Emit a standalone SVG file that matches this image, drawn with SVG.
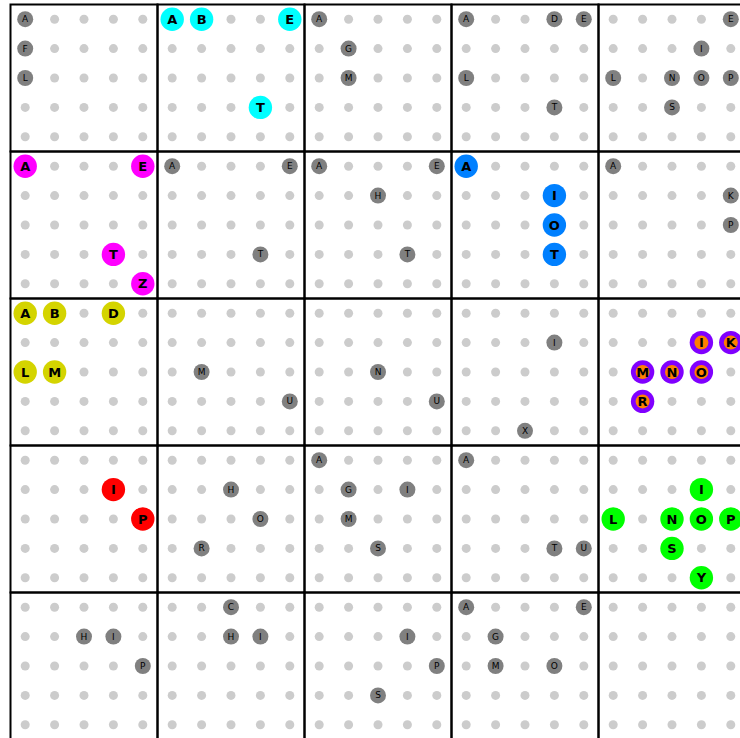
<svg xmlns="http://www.w3.org/2000/svg" xmlns:xlink="http://www.w3.org/1999/xlink" width="740" height="738" viewBox="0 0 740 738">
<style>
.d{fill:#cccccc}
.frame{fill:none;stroke:#000;stroke-width:2}
.g{fill:#808080}
.gt{font-family:"DejaVu Sans",sans-serif;font-size:9px;fill:#000;text-anchor:middle;dominant-baseline:central}
.ct{font-family:"DejaVu Sans",sans-serif;font-size:13px;font-weight:bold;fill:#000;text-anchor:middle;dominant-baseline:central}
.cy{fill:#00ffff}.mg{fill:#ff00ff}.bl{fill:#0080ff}.yl{fill:#d4d400}.pu{fill:#8000ff}.or{fill:#ff8000}.rd{fill:#ff0000}.gr{fill:#00ff00}
</style>
<defs>
<g id="dots">
<circle class="d" cx="14.7" cy="14.7" r="4.5"/><circle class="d" cx="44.1" cy="14.7" r="4.5"/><circle class="d" cx="73.5" cy="14.7" r="4.5"/><circle class="d" cx="102.9" cy="14.7" r="4.5"/><circle class="d" cx="132.3" cy="14.7" r="4.5"/>
<circle class="d" cx="14.7" cy="44.1" r="4.5"/><circle class="d" cx="44.1" cy="44.1" r="4.5"/><circle class="d" cx="73.5" cy="44.1" r="4.5"/><circle class="d" cx="102.9" cy="44.1" r="4.5"/><circle class="d" cx="132.3" cy="44.1" r="4.5"/>
<circle class="d" cx="14.7" cy="73.5" r="4.5"/><circle class="d" cx="44.1" cy="73.5" r="4.5"/><circle class="d" cx="73.5" cy="73.5" r="4.5"/><circle class="d" cx="102.9" cy="73.5" r="4.5"/><circle class="d" cx="132.3" cy="73.5" r="4.5"/>
<circle class="d" cx="14.7" cy="102.9" r="4.5"/><circle class="d" cx="44.1" cy="102.9" r="4.5"/><circle class="d" cx="73.5" cy="102.9" r="4.5"/><circle class="d" cx="102.9" cy="102.9" r="4.5"/><circle class="d" cx="132.3" cy="102.9" r="4.5"/>
<circle class="d" cx="14.7" cy="132.3" r="4.5"/><circle class="d" cx="44.1" cy="132.3" r="4.5"/><circle class="d" cx="73.5" cy="132.3" r="4.5"/><circle class="d" cx="102.9" cy="132.3" r="4.5"/><circle class="d" cx="132.3" cy="132.3" r="4.5"/>
</g>
</defs>
<rect width="740" height="738" fill="#fff"/>
<g id="connectors"/>

<g id="p00" transform="translate(10.5,4.5)"><use xlink:href="#dots"/><rect class="frame" width="147" height="147"/>
<circle class="g" cx="14.7" cy="14.7" r="8"/><text class="gt" x="14.7" y="14.7">A</text>
<circle class="g" cx="14.7" cy="44.1" r="8"/><text class="gt" x="14.7" y="44.1">F</text>
<circle class="g" cx="14.7" cy="73.5" r="8"/><text class="gt" x="14.7" y="73.5">L</text>
</g>
<g id="p01" transform="translate(157.5,4.5)"><use xlink:href="#dots"/><rect class="frame" width="147" height="147"/>
<circle class="cy" cx="14.7" cy="14.7" r="11.7"/><text class="ct" x="14.7" y="14.7">A</text>
<circle class="cy" cx="44.1" cy="14.7" r="11.7"/><text class="ct" x="44.1" y="14.7">B</text>
<circle class="cy" cx="132.3" cy="14.7" r="11.7"/><text class="ct" x="132.3" y="14.7">E</text>
<circle class="cy" cx="102.9" cy="102.9" r="11.7"/><text class="ct" x="102.9" y="102.9">T</text>
</g>
<g id="p02" transform="translate(304.5,4.5)"><use xlink:href="#dots"/><rect class="frame" width="147" height="147"/>
<circle class="g" cx="14.7" cy="14.7" r="8"/><text class="gt" x="14.7" y="14.7">A</text>
<circle class="g" cx="44.1" cy="44.1" r="8"/><text class="gt" x="44.1" y="44.1">G</text>
<circle class="g" cx="44.1" cy="73.5" r="8"/><text class="gt" x="44.1" y="73.5">M</text>
</g>
<g id="p03" transform="translate(451.5,4.5)"><use xlink:href="#dots"/><rect class="frame" width="147" height="147"/>
<circle class="g" cx="14.7" cy="14.7" r="8"/><text class="gt" x="14.7" y="14.7">A</text>
<circle class="g" cx="102.9" cy="14.7" r="8"/><text class="gt" x="102.9" y="14.7">D</text>
<circle class="g" cx="132.3" cy="14.7" r="8"/><text class="gt" x="132.3" y="14.7">E</text>
<circle class="g" cx="14.7" cy="73.5" r="8"/><text class="gt" x="14.7" y="73.5">L</text>
<circle class="g" cx="102.9" cy="102.9" r="8"/><text class="gt" x="102.9" y="102.9">T</text>
</g>
<g id="p04" transform="translate(598.5,4.5)"><use xlink:href="#dots"/><rect class="frame" width="147" height="147"/>
<circle class="g" cx="132.3" cy="14.7" r="8"/><text class="gt" x="132.3" y="14.7">E</text>
<circle class="g" cx="102.9" cy="44.1" r="8"/><text class="gt" x="102.9" y="44.1">I</text>
<circle class="g" cx="14.7" cy="73.5" r="8"/><text class="gt" x="14.7" y="73.5">L</text>
<circle class="g" cx="73.5" cy="73.5" r="8"/><text class="gt" x="73.5" y="73.5">N</text>
<circle class="g" cx="102.9" cy="73.5" r="8"/><text class="gt" x="102.9" y="73.5">O</text>
<circle class="g" cx="132.3" cy="73.5" r="8"/><text class="gt" x="132.3" y="73.5">P</text>
<circle class="g" cx="73.5" cy="102.9" r="8"/><text class="gt" x="73.5" y="102.9">S</text>
</g>

<g id="p10" transform="translate(10.5,151.5)"><use xlink:href="#dots"/><rect class="frame" width="147" height="147"/>
<circle class="mg" cx="14.7" cy="14.7" r="11.7"/><text class="ct" x="14.7" y="14.7">A</text>
<circle class="mg" cx="132.3" cy="14.7" r="11.7"/><text class="ct" x="132.3" y="14.7">E</text>
<circle class="mg" cx="102.9" cy="102.9" r="11.7"/><text class="ct" x="102.9" y="102.9">T</text>
<circle class="mg" cx="132.3" cy="132.3" r="11.7"/><text class="ct" x="132.3" y="132.3">Z</text>
</g>
<g id="p11" transform="translate(157.5,151.5)"><use xlink:href="#dots"/><rect class="frame" width="147" height="147"/>
<circle class="g" cx="14.7" cy="14.7" r="8"/><text class="gt" x="14.7" y="14.7">A</text>
<circle class="g" cx="132.3" cy="14.7" r="8"/><text class="gt" x="132.3" y="14.7">E</text>
<circle class="g" cx="102.9" cy="102.9" r="8"/><text class="gt" x="102.9" y="102.9">T</text>
</g>
<g id="p12" transform="translate(304.5,151.5)"><use xlink:href="#dots"/><rect class="frame" width="147" height="147"/>
<circle class="g" cx="14.7" cy="14.7" r="8"/><text class="gt" x="14.7" y="14.7">A</text>
<circle class="g" cx="132.3" cy="14.7" r="8"/><text class="gt" x="132.3" y="14.7">E</text>
<circle class="g" cx="73.5" cy="44.1" r="8"/><text class="gt" x="73.5" y="44.1">H</text>
<circle class="g" cx="102.9" cy="102.9" r="8"/><text class="gt" x="102.9" y="102.9">T</text>
</g>
<g id="p13" transform="translate(451.5,151.5)"><use xlink:href="#dots"/><rect class="frame" width="147" height="147"/>
<circle class="bl" cx="14.7" cy="14.7" r="11.7"/><text class="ct" x="14.7" y="14.7">A</text>
<circle class="bl" cx="102.9" cy="44.1" r="11.7"/><text class="ct" x="102.9" y="44.1">I</text>
<circle class="bl" cx="102.9" cy="73.5" r="11.7"/><text class="ct" x="102.9" y="73.5">O</text>
<circle class="bl" cx="102.9" cy="102.9" r="11.7"/><text class="ct" x="102.9" y="102.9">T</text>
</g>
<g id="p14" transform="translate(598.5,151.5)"><use xlink:href="#dots"/><rect class="frame" width="147" height="147"/>
<circle class="g" cx="14.7" cy="14.7" r="8"/><text class="gt" x="14.7" y="14.7">A</text>
<circle class="g" cx="132.3" cy="44.1" r="8"/><text class="gt" x="132.3" y="44.1">K</text>
<circle class="g" cx="132.3" cy="73.5" r="8"/><text class="gt" x="132.3" y="73.5">P</text>
</g>

<g id="p20" transform="translate(10.5,298.5)"><use xlink:href="#dots"/><rect class="frame" width="147" height="147"/>
<circle class="yl" cx="14.7" cy="14.7" r="11.7"/><text class="ct" x="14.7" y="14.7">A</text>
<circle class="yl" cx="44.1" cy="14.7" r="11.7"/><text class="ct" x="44.1" y="14.7">B</text>
<circle class="yl" cx="102.9" cy="14.7" r="11.7"/><text class="ct" x="102.9" y="14.7">D</text>
<circle class="yl" cx="14.7" cy="73.5" r="11.7"/><text class="ct" x="14.7" y="73.5">L</text>
<circle class="yl" cx="44.1" cy="73.5" r="11.7"/><text class="ct" x="44.1" y="73.5">M</text>
</g>
<g id="p21" transform="translate(157.5,298.5)"><use xlink:href="#dots"/><rect class="frame" width="147" height="147"/>
<circle class="g" cx="44.1" cy="73.5" r="8"/><text class="gt" x="44.1" y="73.5">M</text>
<circle class="g" cx="132.3" cy="102.9" r="8"/><text class="gt" x="132.3" y="102.9">U</text>
</g>
<g id="p22" transform="translate(304.5,298.5)"><use xlink:href="#dots"/><rect class="frame" width="147" height="147"/>
<circle class="g" cx="73.5" cy="73.5" r="8"/><text class="gt" x="73.5" y="73.5">N</text>
<circle class="g" cx="132.3" cy="102.9" r="8"/><text class="gt" x="132.3" y="102.9">U</text>
</g>
<g id="p23" transform="translate(451.5,298.5)"><use xlink:href="#dots"/><rect class="frame" width="147" height="147"/>
<circle class="g" cx="102.9" cy="44.1" r="8"/><text class="gt" x="102.9" y="44.1">I</text>
<circle class="g" cx="73.5" cy="132.3" r="8"/><text class="gt" x="73.5" y="132.3">X</text>
</g>
<g id="p24" transform="translate(598.5,298.5)"><use xlink:href="#dots"/><rect class="frame" width="147" height="147"/>
<circle class="pu" cx="102.9" cy="44.1" r="11.7"/><circle class="or" cx="102.9" cy="44.1" r="7"/><text class="ct" x="102.9" y="44.1">I</text>
<circle class="pu" cx="132.3" cy="44.1" r="11.7"/><circle class="or" cx="132.3" cy="44.1" r="7"/><text class="ct" x="132.3" y="44.1">K</text>
<circle class="pu" cx="44.1" cy="73.5" r="11.7"/><circle class="or" cx="44.1" cy="73.5" r="7"/><text class="ct" x="44.1" y="73.5">M</text>
<circle class="pu" cx="73.5" cy="73.5" r="11.7"/><circle class="or" cx="73.5" cy="73.5" r="7"/><text class="ct" x="73.5" y="73.5">N</text>
<circle class="pu" cx="102.9" cy="73.5" r="11.7"/><circle class="or" cx="102.9" cy="73.5" r="7"/><text class="ct" x="102.9" y="73.5">O</text>
<circle class="pu" cx="44.1" cy="102.9" r="11.7"/><circle class="or" cx="44.1" cy="102.9" r="7"/><text class="ct" x="44.1" y="102.9">R</text>
</g>

<g id="p30" transform="translate(10.5,445.5)"><use xlink:href="#dots"/><rect class="frame" width="147" height="147"/>
<circle class="rd" cx="102.9" cy="44.1" r="11.7"/><text class="ct" x="102.9" y="44.1">I</text>
<circle class="rd" cx="132.3" cy="73.5" r="11.7"/><text class="ct" x="132.3" y="73.5">P</text>
</g>
<g id="p31" transform="translate(157.5,445.5)"><use xlink:href="#dots"/><rect class="frame" width="147" height="147"/>
<circle class="g" cx="73.5" cy="44.1" r="8"/><text class="gt" x="73.5" y="44.1">H</text>
<circle class="g" cx="102.9" cy="73.5" r="8"/><text class="gt" x="102.9" y="73.5">O</text>
<circle class="g" cx="44.1" cy="102.9" r="8"/><text class="gt" x="44.1" y="102.9">R</text>
</g>
<g id="p32" transform="translate(304.5,445.5)"><use xlink:href="#dots"/><rect class="frame" width="147" height="147"/>
<circle class="g" cx="14.7" cy="14.7" r="8"/><text class="gt" x="14.7" y="14.7">A</text>
<circle class="g" cx="44.1" cy="44.1" r="8"/><text class="gt" x="44.1" y="44.1">G</text>
<circle class="g" cx="102.9" cy="44.1" r="8"/><text class="gt" x="102.9" y="44.1">I</text>
<circle class="g" cx="44.1" cy="73.5" r="8"/><text class="gt" x="44.1" y="73.5">M</text>
<circle class="g" cx="73.5" cy="102.9" r="8"/><text class="gt" x="73.5" y="102.9">S</text>
</g>
<g id="p33" transform="translate(451.5,445.5)"><use xlink:href="#dots"/><rect class="frame" width="147" height="147"/>
<circle class="g" cx="14.7" cy="14.7" r="8"/><text class="gt" x="14.7" y="14.7">A</text>
<circle class="g" cx="102.9" cy="102.9" r="8"/><text class="gt" x="102.9" y="102.9">T</text>
<circle class="g" cx="132.3" cy="102.9" r="8"/><text class="gt" x="132.3" y="102.9">U</text>
</g>
<g id="p34" transform="translate(598.5,445.5)"><use xlink:href="#dots"/><rect class="frame" width="147" height="147"/>
<circle class="gr" cx="102.9" cy="44.1" r="11.7"/><text class="ct" x="102.9" y="44.1">I</text>
<circle class="gr" cx="14.7" cy="73.5" r="11.7"/><text class="ct" x="14.7" y="73.5">L</text>
<circle class="gr" cx="73.5" cy="73.5" r="11.7"/><text class="ct" x="73.5" y="73.5">N</text>
<circle class="gr" cx="102.9" cy="73.5" r="11.7"/><text class="ct" x="102.9" y="73.5">O</text>
<circle class="gr" cx="132.3" cy="73.5" r="11.7"/><text class="ct" x="132.3" y="73.5">P</text>
<circle class="gr" cx="73.5" cy="102.9" r="11.7"/><text class="ct" x="73.5" y="102.9">S</text>
<circle class="gr" cx="102.9" cy="132.3" r="11.7"/><text class="ct" x="102.9" y="132.3">Y</text>
</g>

<g id="p40" transform="translate(10.5,592.5)"><use xlink:href="#dots"/><rect class="frame" width="147" height="147"/>
<circle class="g" cx="73.5" cy="44.1" r="8"/><text class="gt" x="73.5" y="44.1">H</text>
<circle class="g" cx="102.9" cy="44.1" r="8"/><text class="gt" x="102.9" y="44.1">I</text>
<circle class="g" cx="132.3" cy="73.5" r="8"/><text class="gt" x="132.3" y="73.5">P</text>
</g>
<g id="p41" transform="translate(157.5,592.5)"><use xlink:href="#dots"/><rect class="frame" width="147" height="147"/>
<circle class="g" cx="73.5" cy="14.7" r="8"/><text class="gt" x="73.5" y="14.7">C</text>
<circle class="g" cx="73.5" cy="44.1" r="8"/><text class="gt" x="73.5" y="44.1">H</text>
<circle class="g" cx="102.9" cy="44.1" r="8"/><text class="gt" x="102.9" y="44.1">I</text>
</g>
<g id="p42" transform="translate(304.5,592.5)"><use xlink:href="#dots"/><rect class="frame" width="147" height="147"/>
<circle class="g" cx="102.9" cy="44.1" r="8"/><text class="gt" x="102.9" y="44.1">I</text>
<circle class="g" cx="132.3" cy="73.5" r="8"/><text class="gt" x="132.3" y="73.5">P</text>
<circle class="g" cx="73.5" cy="102.9" r="8"/><text class="gt" x="73.5" y="102.9">S</text>
</g>
<g id="p43" transform="translate(451.5,592.5)"><use xlink:href="#dots"/><rect class="frame" width="147" height="147"/>
<circle class="g" cx="14.7" cy="14.7" r="8"/><text class="gt" x="14.7" y="14.7">A</text>
<circle class="g" cx="132.3" cy="14.7" r="8"/><text class="gt" x="132.3" y="14.7">E</text>
<circle class="g" cx="44.1" cy="44.1" r="8"/><text class="gt" x="44.1" y="44.1">G</text>
<circle class="g" cx="44.1" cy="73.5" r="8"/><text class="gt" x="44.1" y="73.5">M</text>
<circle class="g" cx="102.9" cy="73.5" r="8"/><text class="gt" x="102.9" y="73.5">O</text>
</g>
<g id="p44" transform="translate(598.5,592.5)"><use xlink:href="#dots"/><rect class="frame" width="147" height="147"/>
</g>
</svg>
